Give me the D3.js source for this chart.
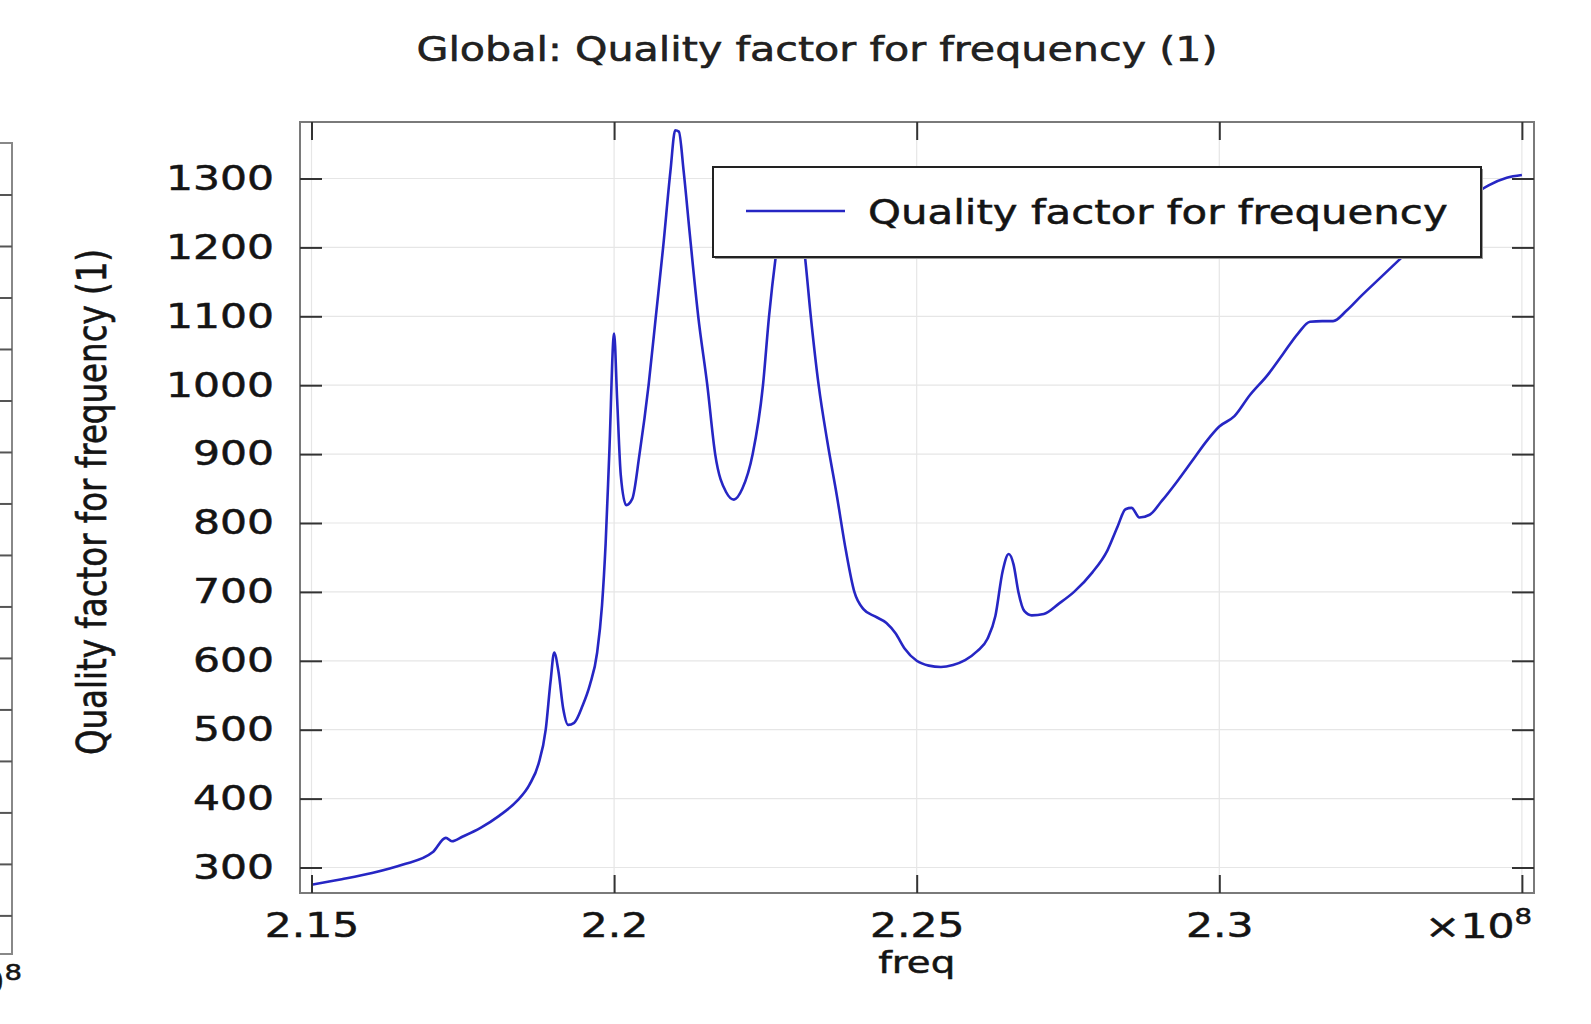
<!DOCTYPE html>
<html>
<head>
<meta charset="utf-8">
<script src="https://cdn.jsdelivr.net/npm/d3@7"></script>
<style>
  html, body { margin: 0; padding: 0; background: #fff; }
  svg { display: block; font-family: "DejaVu Sans", sans-serif; }
  svg text { stroke: #141414; stroke-width: 0.5px; }
</style>
</head>
<body>
<svg id="chart" width="1591" height="1024"></svg>
<script>
// freq (x 1e8 Hz) and quality factor
const freq = [
  2.150, 2.155, 2.160, 2.165, 2.170, 2.1722, 2.1732, 2.1750, 2.1780, 2.1810,
  2.1840, 2.1860, 2.1875, 2.1887, 2.1895, 2.1901, 2.1908, 2.1916, 2.1924, 2.1934,
  2.1948, 2.1960, 2.1972, 2.1980, 2.1986, 2.1992, 2.2000, 2.2005, 2.2011, 2.2020,
  2.2030, 2.2042, 2.2057, 2.2069, 2.2081, 2.2093, 2.2101, 2.2107, 2.2115, 2.2125,
  2.2139, 2.2154, 2.2167, 2.2185, 2.2198, 2.2212, 2.2229, 2.2246, 2.2256, 2.2269,
  2.2285, 2.2300, 2.2315, 2.2325, 2.2338, 2.2352, 2.2368, 2.2383, 2.2397, 2.2412,
  2.2432, 2.2450, 2.2465, 2.2480, 2.2500, 2.2520, 2.2540, 2.2560, 2.2580, 2.2600,
  2.2617, 2.2630, 2.2642, 2.2652, 2.2660, 2.2668, 2.2678, 2.2690, 2.2710, 2.2735,
  2.2760, 2.2790, 2.2815, 2.2832, 2.2845, 2.2855, 2.2868, 2.2885, 2.2905, 2.2930,
  2.2955, 2.2980, 2.3000, 2.3025, 2.3050, 2.3080, 2.3105, 2.3130, 2.3150, 2.3170,
  2.3188, 2.3210, 2.3235, 2.3265, 2.3295, 2.3325, 2.3355, 2.3385, 2.3415, 2.3445,
  2.3475, 2.3500
];
const quality = [
  275, 283, 292, 304, 322, 343, 338, 345, 358, 375,
  397, 420, 450, 500, 570, 612, 585, 530, 507, 510,
  535, 565, 612, 680, 770, 900, 1075, 980, 870, 826,
  835, 900, 1000, 1100, 1200, 1310, 1370, 1368, 1310, 1220,
  1100, 1000, 900, 845, 834, 850, 900, 1000, 1100, 1200,
  1290, 1280, 1190, 1100, 1000, 920, 840, 760, 700, 675,
  664, 655, 640, 618, 600, 593, 591, 594, 601, 614,
  632, 665, 730, 755, 740, 700, 672, 666, 668, 683,
  700, 728, 760, 795, 820, 822, 808, 812, 832, 860,
  890, 920, 940, 955, 985, 1015, 1045, 1075, 1092, 1093,
  1093, 1108, 1130, 1155, 1180, 1205, 1230, 1252, 1273, 1290,
  1301, 1305
];
const xTicks = [2.15, 2.2, 2.25, 2.3, 2.35];
const xTickLabels = ['2.15', '2.2', '2.25', '2.3', ''];
const yTicks = [300, 400, 500, 600, 700, 800, 900, 1000, 1100, 1200, 1300];
const titleText = 'Global: Quality factor for frequency (1)';
const yLabel = 'Quality factor for frequency (1)';
const xLabel = 'freq';
const legendLabel = 'Quality factor for frequency';
const leftPanelTicks = [0, 1, 2, 3, 4, 5, 6, 7, 8, 9, 10, 11, 12, 13, 14];

const S = 1.25; // the picture is stretched sideways
const svg = d3.select('#chart');
const m = { left: 300, right: 1534, top: 122, bottom: 893 };

const x = d3.scaleLinear().domain([2.1481, 2.352]).range([m.left, m.right]);
const y = d3.scaleLinear().domain([263, 1382]).range([m.bottom, m.top]);

function stext(g, px, py, size, anchor, str, rot) {
  return g.append('text')
    .attr('transform', `translate(${px},${py}) scale(${S},1)` + (rot ? ` rotate(${rot})` : ''))
    .attr('text-anchor', anchor)
    .attr('font-size', size)
    .attr('fill', '#141414')
    .text(str);
}

// piece of the neighbouring plot at the left edge
const yl = d3.scaleLinear().domain([-0.74, 15.01]).range([954, 143]);
const lp = svg.append('g');
lp.append('path').attr('d', `M0,143H12V954H0`).attr('fill', 'none').attr('stroke', '#888').attr('stroke-width', 2);
lp.selectAll('line.lt').data(leftPanelTicks).join('line')
  .attr('x1', 0).attr('x2', 12).attr('y1', d => yl(d)).attr('y2', d => yl(d))
  .attr('stroke', '#555').attr('stroke-width', 2);
const lx = stext(lp, 22, 994, 34, 'end', '×10');
lx.append('tspan').attr('font-size', 22).attr('dy', -14).text('8');

// grid
const grid = svg.append('g').attr('stroke', '#e6e6e6').attr('stroke-width', 1.2);
grid.selectAll('line.gx').data(xTicks).join('line')
  .attr('x1', d => x(d)).attr('x2', d => x(d)).attr('y1', m.top).attr('y2', m.bottom);
grid.selectAll('line.gy').data(yTicks).join('line')
  .attr('y1', d => y(d)).attr('y2', d => y(d)).attr('x1', m.left).attr('x2', m.right);

// data line
const line = d3.line().x((d, i) => x(freq[i])).y(d => y(d)).curve(d3.curveMonotoneX);
svg.append('path').datum(quality)
  .attr('d', line)
  .attr('fill', 'none')
  .attr('stroke', '#2626c4')
  .attr('stroke-width', 2.6)
  .attr('stroke-linejoin', 'round');

// frame
svg.append('rect')
  .attr('x', m.left).attr('y', m.top)
  .attr('width', m.right - m.left).attr('height', m.bottom - m.top)
  .attr('fill', 'none').attr('stroke', '#7a7a7a').attr('stroke-width', 2);

function styleAxis(g) {
  g.select('.domain').remove();
  g.selectAll('.tick line').attr('stroke', '#333').attr('stroke-width', 2);
  g.selectAll('text').attr('font-size', null).attr('fill', '#141414');
}

const axL = svg.append('g').attr('transform', `translate(${m.left},0)`)
  .call(d3.axisLeft(y).tickValues(yTicks).tickFormat(d3.format('d'))
    .tickSizeInner(-22).tickSizeOuter(0).tickPadding(26))
  .attr('font-family', null).attr('font-size', 34);
styleAxis(axL);
axL.selectAll('text').attr('x', -26 / S).attr('transform', `scale(${S},1)`);

const axR = svg.append('g').attr('transform', `translate(${m.right},0)`)
  .call(d3.axisRight(y).tickValues(yTicks).tickSizeInner(-22).tickSizeOuter(0).tickFormat(''));
styleAxis(axR);

const axB = svg.append('g').attr('transform', `translate(0,${m.bottom})`)
  .call(d3.axisBottom(x).tickValues(xTicks).tickSizeInner(-18).tickSizeOuter(0)
    .tickFormat((d, i) => xTickLabels[i]))
  .attr('font-family', null).attr('font-size', 34);
styleAxis(axB);
axB.selectAll('text').attr('y', 20).attr('transform', `scale(${S},1)`);

const axT = svg.append('g').attr('transform', `translate(0,${m.top})`)
  .call(d3.axisTop(x).tickValues(xTicks).tickSizeInner(-18).tickSizeOuter(0).tickFormat(''));
styleAxis(axT);

// exponent at the end of the x axis
const ex = stext(svg, 1532, 938, 34, 'end', '×10');
ex.append('tspan').attr('font-size', 22).attr('dy', -14).text('8');

// titles
stext(svg, 817, 61, 33, 'middle', titleText).attr('fill', '#222');
stext(svg, x(2.25), 973, 31, 'middle', xLabel);
stext(svg, 106, 502, 32.5, 'middle', yLabel, -90);

// legend
const lg = svg.append('g');
lg.append('rect').attr('x', 715).attr('y', 169).attr('width', 768).attr('height', 90).attr('fill', '#999');
lg.append('rect').attr('x', 713).attr('y', 167).attr('width', 768).attr('height', 90)
  .attr('fill', '#fff').attr('stroke', '#222').attr('stroke-width', 2);
lg.append('line').attr('x1', 746).attr('x2', 845).attr('y1', 211).attr('y2', 211)
  .attr('stroke', '#2626c4').attr('stroke-width', 2.6);
stext(lg, 868, 224, 33.5, 'start', legendLabel);
</script>
</body>
</html>
